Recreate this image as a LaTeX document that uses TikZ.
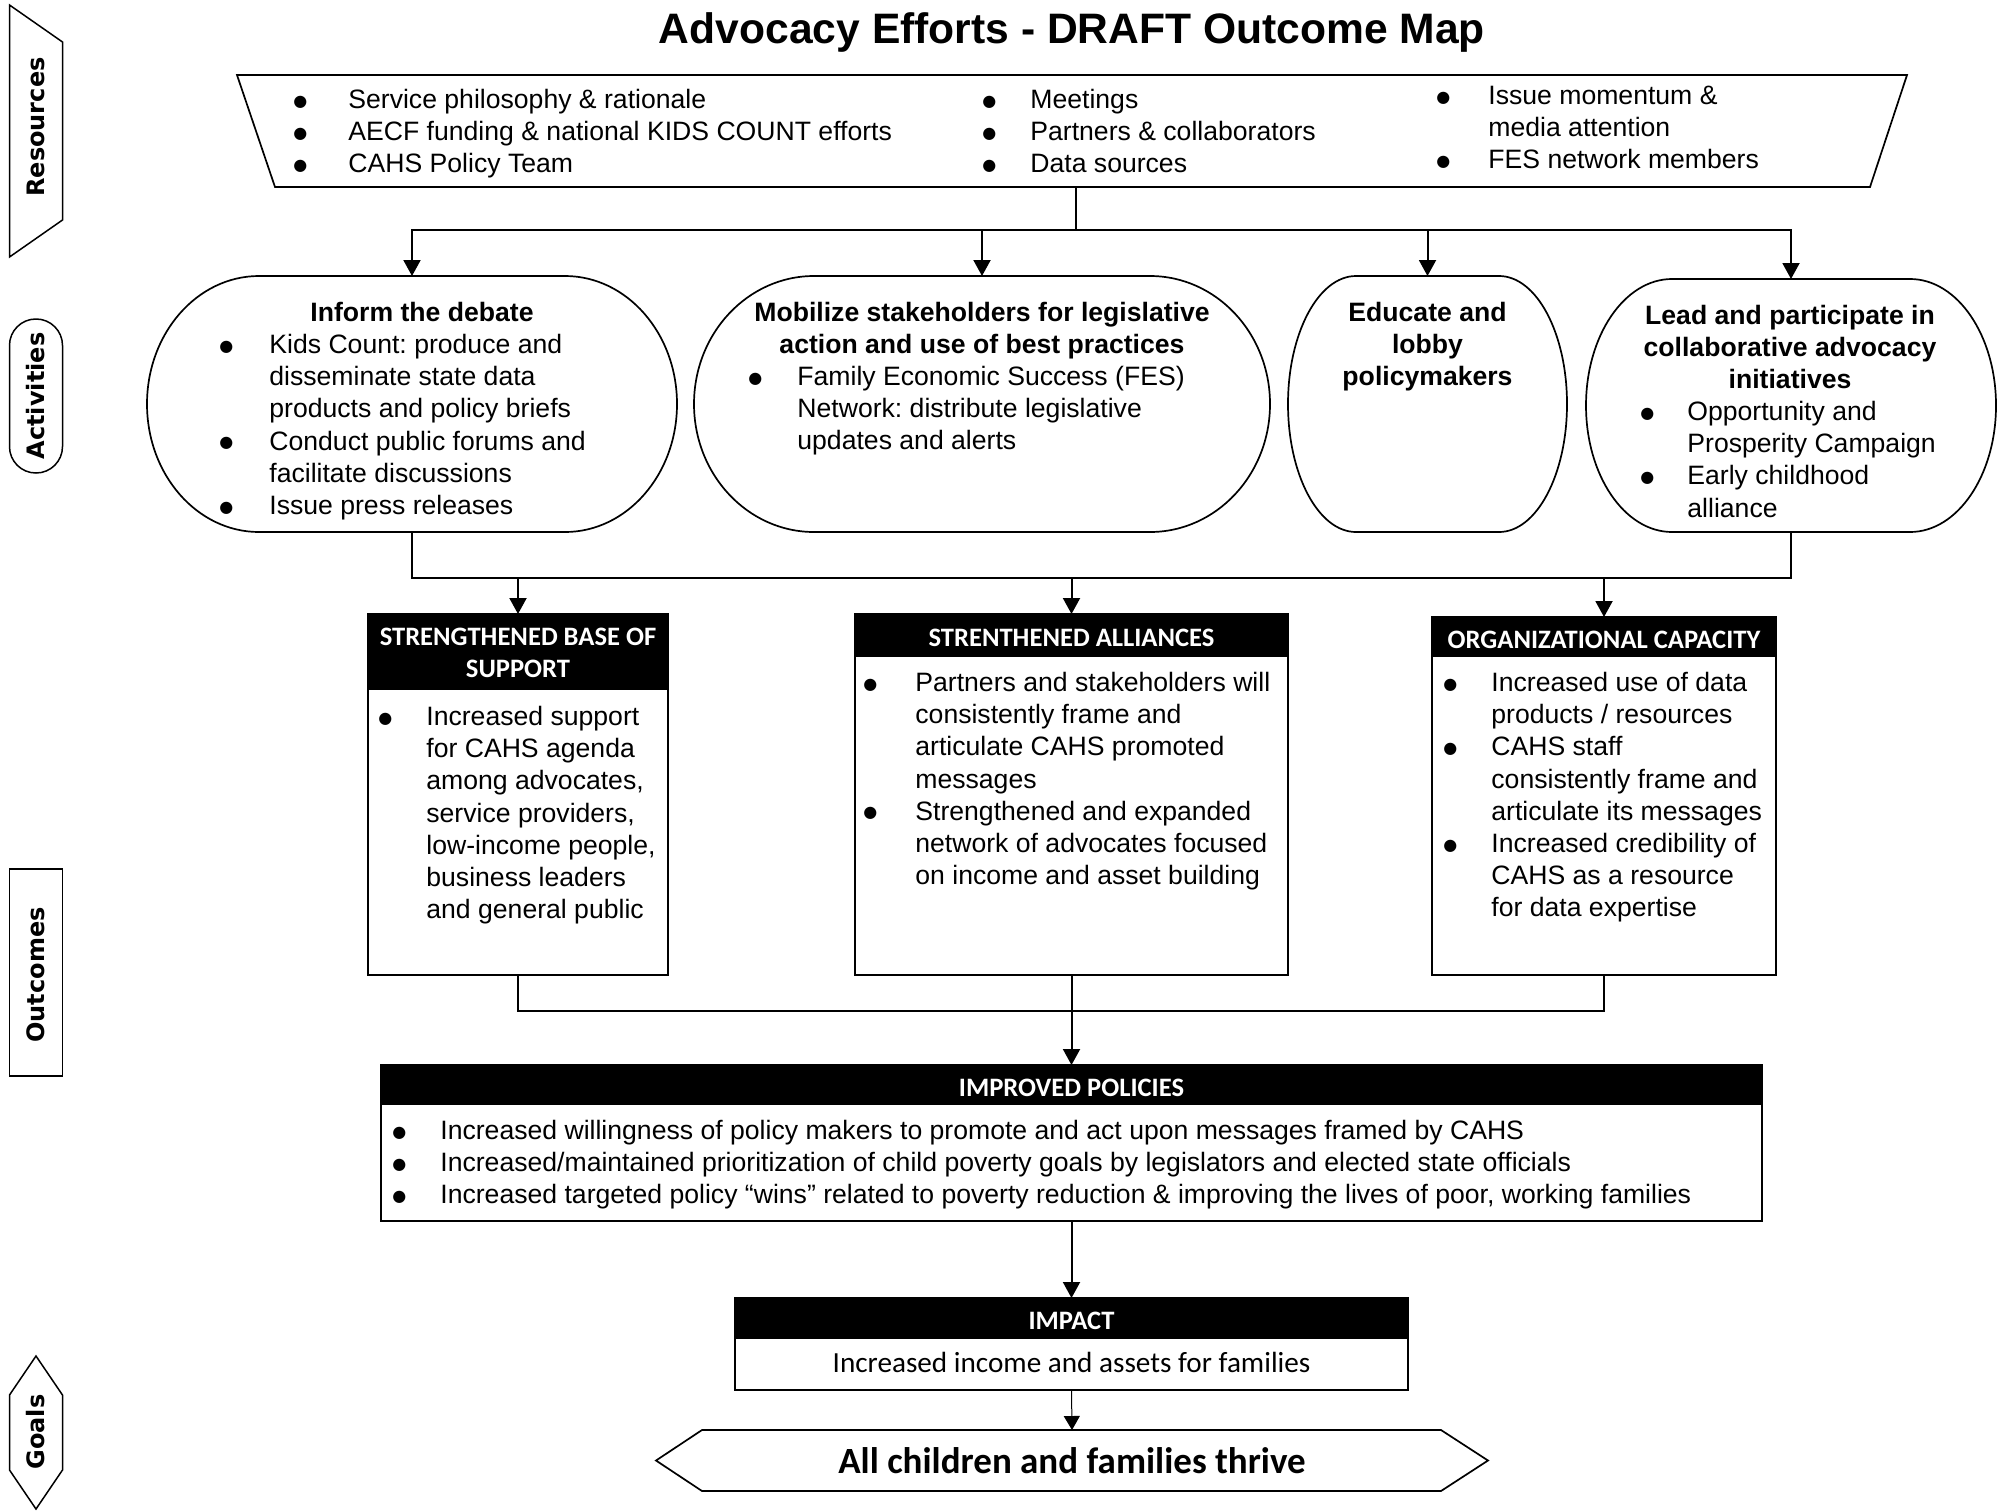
\documentclass[tikz,border=0pt]{standalone}
\usepackage{fontspec}
\usepackage{graphicx}
\setmainfont{Liberation Sans}
\newfontfamily\calibri{Carlito}
\newfontfamily\labelfont{DejaVu Sans}
\usetikzlibrary{arrows.meta}
\frenchspacing

\newcommand\bodyfont{\fontsize{13.3pt}{16.1pt}\selectfont}
\newcommand\headfont{\calibri\bfseries\fontsize{13.3pt}{16pt}\selectfont}
\newcommand\firstln{\rule{0pt}{12pt}}
\newcommand\bulmark{\raisebox{1.2pt}{\labelfont\fontsize{8pt}{8pt}\selectfont ●}}
\newcommand\blt[1]{\llap{\makebox[0pt]{\bulmark}\hspace{#1}}}
% activity outline: flat top and bottom, half-elliptic sides
\newcommand\actshape[3]{\draw[shapeline] ([xshift=-#2]#1.north east)
  arc[start angle=90,end angle=-90,x radius=#2,y radius=#3]
  -- ([xshift=#2]#1.south west)
  arc[start angle=270,end angle=90,x radius=#2,y radius=#3] -- cycle;}
% black heading band and heavier right/bottom edge of an outcome box
\newcommand\heading[2]{\fill (#1.north west) rectangle ([yshift=-#2]#1.north east);
  \draw[line width=1.2pt] (#1.north east) -- (#1.south east) -- (#1.south west);}

\begin{document}
\begin{tikzpicture}[x=0.5pt,y=-0.5pt,
  conn/.style={line width=1pt,line cap=rect},
  arr/.style={line width=1pt,-{Triangle[length=8pt,width=8.5pt]}},
  box/.style={draw=none,inner sep=0pt,outer sep=0pt},
  thinbox/.style={draw,line width=0.7pt,inner sep=0pt,outer sep=0pt},
  shapeline/.style={line width=0.85pt},
  txt/.style={inner sep=0pt,anchor=north west,align=left,font=\bodyfont},
  ctxt/.style={inner sep=0pt,anchor=north,align=center,font=\bodyfont\bfseries},
  headtxt/.style={inner sep=0pt,anchor=north,align=center,font=\headfont,text=white},
  sidelabel/.style={inner sep=0pt,rotate=90,font=\labelfont\bfseries\fontsize{12pt}{14pt}\selectfont},
  sideframe/.style={line width=0.75pt}
]
\useasboundingbox (0,0) rectangle (2007,1510);

% ---- side bar labels ----
\node[box,minimum width=26.5pt,minimum height=126pt] (fres) at (36,131) {};
\draw[sideframe] (fres.north west) -- ([yshift=-18.5pt]fres.north east)
  -- ([yshift=18.5pt]fres.south east) -- (fres.south west) -- cycle;
\node[sidelabel] (lres) at (36,127) {Resources};

\node[draw,sideframe,rounded corners=13.2pt,minimum width=26.5pt,minimum height=77pt,inner sep=0pt] (fact) at (36,396) {};
\node[sidelabel] (lact) at (36,396) {Activities};

\node[draw,sideframe,minimum width=26.5pt,minimum height=103.5pt,inner sep=0pt] (fout) at (36,972.5) {};
\node[sidelabel] (lout) at (36,975) {Outcomes};

\node[box,minimum width=26.5pt,minimum height=76.5pt] (fgoal) at (36,1432.5) {};
\draw[sideframe] (fgoal.north) -- ([yshift=-19.5pt]fgoal.north east)
  -- ([yshift=19.5pt]fgoal.south east) -- (fgoal.south)
  -- ([yshift=19.5pt]fgoal.south west) -- ([yshift=-19.5pt]fgoal.north west) -- cycle;
\node[sidelabel] (lgoal) at (36,1432) {Goals};

% ---- title ----
\node[inner sep=0pt,anchor=base,font=\bfseries\fontsize{21.3pt}{25pt}\selectfont] (title) at (1072,43)
  {Advocacy Efforts - DRAFT Outcome Map};

% ---- resources ----
\node[box,minimum width=835pt,minimum height=56pt] (res) at (1072,131) {};
\draw[shapeline] (res.north west) -- (res.north east) -- ([xshift=-18.5pt]res.south east)
  -- ([xshift=19pt]res.south west) -- cycle;
\draw[line width=1.3pt] (res.north west) -- (res.north east);
\draw[line width=1.3pt] ([xshift=-18.5pt]res.south east) -- ([xshift=19pt]res.south west);

\node[txt] (r1) at (348,84) {\firstln\blt{24pt}Service philosophy \& rationale\\
  \blt{24pt}AECF funding \& national KIDS COUNT efforts\\
  \blt{24pt}CAHS Policy Team};
\node[txt] (r2) at (1030,84) {\firstln\blt{20.5pt}Meetings\\
  \blt{20.5pt}Partners \& collaborators\\
  \blt{20.5pt}Data sources};
\node[txt] (r3) at (1488,80) {\firstln\blt{22.5pt}Issue momentum \&\\
  media attention\\
  \blt{22.5pt}FES network members};

% ---- activities ----
\node[box,minimum width=265pt,minimum height=128pt] (a1) at (412,404) {};
\node[box,minimum width=288pt,minimum height=128pt] (a2) at (982,404) {};
\node[box,minimum width=139.5pt,minimum height=128pt] (a3) at (1427.5,404) {};
\node[box,minimum width=205pt,minimum height=126.5pt] (a4) at (1791,405.5) {};
\actshape{a1}{56pt}{64pt}
\actshape{a2}{60pt}{64pt}
\actshape{a3}{34pt}{64pt}
\actshape{a4}{43pt}{63.25pt}

\node[ctxt] (a1t) at (422,297) {\firstln Inform the debate};
\node[txt] (a1b) at (269,329) {\firstln\blt{21.5pt}Kids Count: produce and\\
  disseminate state data\\
  products and policy briefs\\
  \blt{21.5pt}Conduct public forums and\\
  facilitate discussions\\
  \blt{21.5pt}Issue press releases};
\node[ctxt] (a2t) at (982,297) {\firstln Mobilize stakeholders for legislative\\
  action and use of best practices};
\node[txt] (a2b) at (797,361) {\firstln\blt{21pt}Family Economic Success (FES)\\
  Network: distribute legislative\\
  updates and alerts};
\node[ctxt] (a3t) at (1427.5,297) {\firstln Educate and\\ lobby\\ policymakers};
\node[ctxt] (a4t) at (1790,300) {\firstln Lead and participate in\\
  collaborative advocacy\\ initiatives};
\node[txt] (a4b) at (1687,396) {\firstln\blt{20pt}Opportunity and\\
  Prosperity Campaign\\
  \blt{20pt}Early childhood\\
  alliance};

% ---- outcomes ----
\node[thinbox,minimum width=150pt,minimum height=180.5pt] (o1) at (518,794.5) {};
\node[thinbox,minimum width=216.5pt,minimum height=180.5pt] (o2) at (1071.5,794.5) {};
\node[thinbox,minimum width=172pt,minimum height=179pt] (o3) at (1604,796) {};
\heading{o1}{38pt}
\heading{o2}{21.5pt}
\heading{o3}{20pt}

\node[headtxt] (o1h) at (518,621) {\firstln STRENGTHENED BASE OF\\ SUPPORT};
\node[headtxt] (o2h) at (1071.5,622) {\firstln STRENTHENED ALLIANCES};
\node[headtxt] (o3h) at (1604,624) {\firstln ORGANIZATIONAL CAPACITY};

\node[txt] (o1b) at (426,701) {\firstln\blt{20.5pt}Increased support\\
  for CAHS agenda\\
  among advocates,\\
  service providers,\\
  low-income people,\\
  business leaders\\
  and general public};
\node[txt] (o2b) at (915,667) {\firstln\blt{22.5pt}Partners and stakeholders will\\
  consistently frame and\\
  articulate CAHS promoted\\
  messages\\
  \blt{22.5pt}Strengthened and expanded\\
  network of advocates focused\\
  on income and asset building};
\node[txt] (o3b) at (1491,667) {\firstln\blt{20.5pt}Increased use of data\\
  products / resources\\
  \blt{20.5pt}CAHS staff\\
  consistently frame and\\
  articulate its messages\\
  \blt{20.5pt}Increased credibility of\\
  CAHS as a resource\\
  for data expertise};

% ---- improved policies ----
\node[thinbox,minimum width=690.5pt,minimum height=78pt] (pol) at (1071.5,1143) {};
\heading{pol}{20pt}
\node[headtxt] (polh) at (1071.5,1072) {\firstln IMPROVED POLICIES};
\node[txt] (polb) at (440,1115) {\firstln\blt{20.5pt}Increased willingness of policy makers to promote and act upon messages framed by CAHS\\
  \blt{20.5pt}Increased/maintained prioritization of child poverty goals by legislators and elected state officials\\
  \blt{20.5pt}Increased targeted policy “wins” related to poverty reduction \& improving the lives of poor, working families};

% ---- impact ----
\node[thinbox,minimum width=336.5pt,minimum height=46pt] (imp) at (1071.5,1344) {};
\heading{imp}{20.5pt}
\node[headtxt] (imph) at (1071.5,1305) {\firstln IMPACT};
\node[inner sep=0pt,anchor=north,font=\calibri\fontsize{14.6pt}{17pt}\selectfont] (impb) at (1071.5,1348)
  {\firstln Increased income and assets for families};

% ---- goal ----
\node[box,minimum width=416pt,minimum height=30.5pt,font=\calibri\bfseries\fontsize{18.5pt}{22pt}\selectfont] (goal) at (1072,1460.5)
  {All children and families thrive};
\draw[shapeline] (goal.west) -- ([xshift=23pt]goal.north west) -- ([xshift=-23.5pt]goal.north east)
  -- (goal.east) -- ([xshift=-23.5pt]goal.south east) -- ([xshift=23pt]goal.south west) -- cycle;
\draw[line width=1.2pt] ([xshift=23pt]goal.north west) -- ([xshift=-23.5pt]goal.north east);
\draw[line width=1.2pt] ([xshift=-23.5pt]goal.south east) -- ([xshift=23pt]goal.south west);

% ---- connectors ----
\coordinate (busA) at (1076,230);
\draw[conn] (res.south -| busA) -- (busA);
\draw[conn] (busA -| a1.north) -- (busA -| a4.north);
\foreach \n in {a1,a2,a3,a4} \draw[arr] (busA -| \n.north) -- (\n.north);

\coordinate (busB) at (0,578);
\draw[conn] (a1.south) -- (a1.south |- busB) -- (a4.south |- busB) -- (a4.south);
\foreach \n in {o1,o2,o3} \draw[arr] (busB -| \n.north) -- (\n.north);

\coordinate (busC) at (0,1011);
\draw[conn] (o1.south) -- (o1.south |- busC) -- (o3.south |- busC) -- (o3.south);
\draw[arr] (o2.south) -- (pol.north);
\draw[arr] (pol.south) -- (imp.north);
\draw[line width=0.5pt,-{Triangle[length=7pt,width=8pt]}] (imp.south) -- (goal.north);
\end{tikzpicture}
\end{document}
